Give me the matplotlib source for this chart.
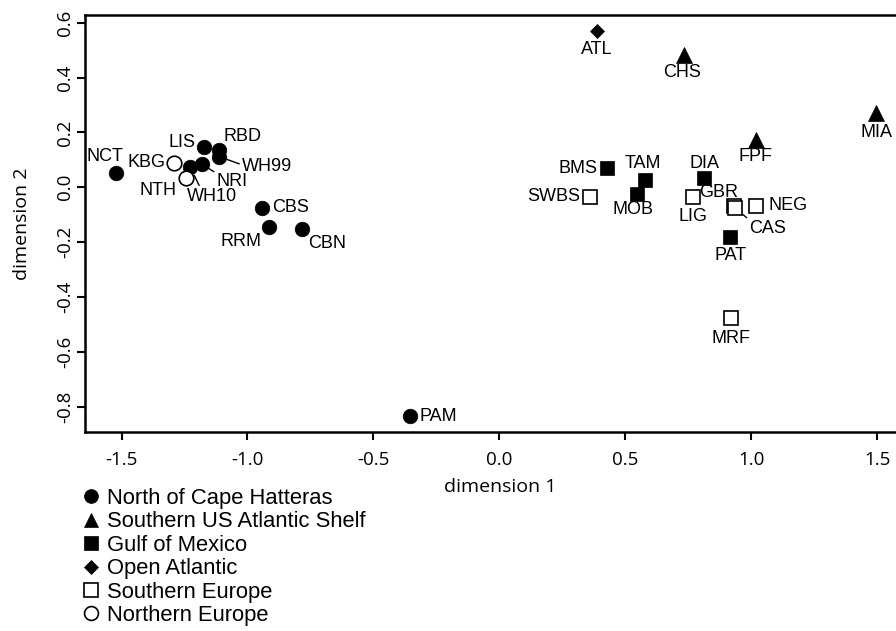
import matplotlib.pyplot as plt
from matplotlib.lines import Line2D

# --- MDS coordinates, one set of lists per region ---
north_names = ["NCT", "LIS", "RBD", "WH99", "WH10", "NRI", "CBS", "RRM", "CBN", "PAM"]
north_x = [-1.523, -1.173, -1.112, -1.113, -1.228, -1.182, -0.941, -0.915, -0.784, -0.355]
north_y = [0.053, 0.148, 0.136, 0.112, 0.075, 0.085, -0.074, -0.144, -0.153, -0.834]

southus_names = ["CHS", "FPF", "MIA"]
southus_x = [0.732, 1.018, 1.497]
southus_y = [0.483, 0.173, 0.270]

gulf_names = ["BMS", "TAM", "MOB", "DIA", "PAT"]
gulf_x = [0.428, 0.580, 0.547, 0.813, 0.917]
gulf_y = [0.069, 0.027, -0.024, 0.033, -0.183]

atl_names = ["ATL"]
atl_x = [0.388]
atl_y = [0.570]

seu_names = ["SWBS", "LIG", "GBR", "CAS", "NEG", "MRF"]
seu_x = [0.359, 0.769, 0.930, 0.937, 1.019, 0.919]
seu_y = [-0.034, -0.036, -0.070, -0.077, -0.067, -0.478]

neu_names = ["KBG", "NTH"]
neu_x = [-1.292, -1.245]
neu_y = [0.090, 0.033]

group_labels = ["North of Cape Hatteras", "Southern US Atlantic Shelf", "Gulf of Mexico",
                "Open Atlantic", "Southern Europe", "Northern Europe"]

# label placement: offset from the point in pixels and text alignment
label_pos = {
    "NCT": (-11, 16, "center"), "LIS": (-8, 4, "right"), "RBD": (4, 13, "left"),
    "WH99": (23, -10, "left"), "WH10": (22, -30, "center"), "NRI": (15, -18, "left"),
    "CBS": (10, 0, "left"), "RRM": (-7, -15, "right"), "CBN": (6, -14, "left"),
    "PAM": (10, 0, "left"), "CHS": (-2, -18, "center"), "FPF": (0, -17, "center"),
    "MIA": (0, -19, "center"), "BMS": (-10, 0, "right"), "TAM": (-3, 16, "center"),
    "MOB": (-4, -16, "center"), "DIA": (0, 15, "center"), "PAT": (0, -18, "center"),
    "ATL": (0, -19, "center"), "SWBS": (-10, 0, "right"), "LIG": (0, -19, "center"),
    "GBR": (-15, 14, "center"), "CAS": (14, -20, "left"), "NEG": (12, 0, "left"),
    "MRF": (0, -20, "center"), "KBG": (-8, 0, "right"), "NTH": (-9, -12, "right"),
}
# leader lines: (relpos on text, shrink at point in pt)
leaders = {"WH99": ((0, 0.6), 6), "WH10": ((0.27, 1), 7), "NRI": ((0, 1), 3), "CAS": ((0, 1), 7)}

styles = [
    (north_names, north_x, north_y, "o", 10.5, "black"),
    (southus_names, southus_x, southus_y, "^", 11.2, "black"),
    (gulf_names, gulf_x, gulf_y, "s", 10.5, "black"),
    (atl_names, atl_x, atl_y, "D", 7.5, "black"),
    (seu_names, seu_x, seu_y, "s", 10.5, "white"),
    (neu_names, neu_x, neu_y, "o", 10.5, "white"),
]

tick_font = "Open Sans"
label_font = "Liberation Sans"
px = 0.72  # points per pixel at 100 dpi

fig = plt.figure(figsize=(8.96, 6.31), dpi=100)
ax = fig.add_axes([85 / 896, 199 / 631, 830 / 896, 417 / 631])

handles = []
for (names, xs, ys, mk, ms, fc), lab in zip(styles, group_labels):
    ax.plot(xs, ys, linestyle="none", marker=mk, markersize=ms, markerfacecolor=fc,
            markeredgecolor="black", markeredgewidth=1.2 if fc == "white" else 0.5, zorder=3)
    handles.append(Line2D([], [], linestyle="none", marker=mk, markersize=ms * 0.95,
                          markerfacecolor=fc, markeredgecolor="black",
                          markeredgewidth=1.2 if fc == "white" else 0.5, label=lab))
    for n, x, y in zip(names, xs, ys):
        dx, dy, ha = label_pos[n]
        kw = {}
        if n in leaders:
            rp, sh = leaders[n]
            kw["arrowprops"] = dict(arrowstyle="-", lw=1.0, color="black",
                                    shrinkA=0, shrinkB=sh, relpos=rp)
        ax.annotate(n, (x, y), xytext=(dx * px, dy * px), textcoords="offset points",
                    ha=ha, va="center", fontsize=13, fontfamily=label_font, **kw)

ax.set_xlim(-1.645, 1.65)
ax.set_ylim(-0.892, 0.628)
ax.set_xticks([-1.5, -1.0, -0.5, 0.0, 0.5, 1.0, 1.5])
ax.set_yticks([-0.8, -0.6, -0.4, -0.2, 0.0, 0.2, 0.4, 0.6])
ax.set_xticklabels([f"{v:.1f}" for v in ax.get_xticks()], fontfamily=tick_font, fontsize=13.5)
ax.set_yticklabels([f"{v:.1f}" for v in ax.get_yticks()], fontfamily=tick_font, fontsize=13.5,
                   rotation=90, va="center")
ax.tick_params(direction="out", length=6, width=1.5)
ax.tick_params(axis="x", pad=8)
ax.tick_params(axis="y", pad=2)
for s in ax.spines.values():
    s.set_linewidth(1.8)

ax.set_xlabel("dimension 1", fontfamily=tick_font, fontsize=14, labelpad=6)
ax.set_ylabel("dimension 2", fontfamily=tick_font, fontsize=14, labelpad=18)

fig.legend(handles=handles, loc="upper left", bbox_to_anchor=(82 / 896, 1 - 488 / 631),
           frameon=False, borderpad=0, borderaxespad=0, handlelength=0.8, handletextpad=0.35,
           labelspacing=0.11, prop={"family": label_font, "size": 15.8})

fig.savefig("out.png", dpi=100)
